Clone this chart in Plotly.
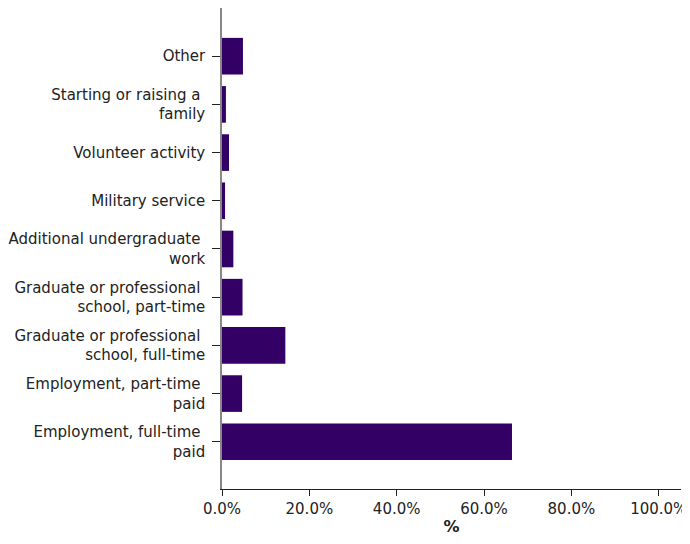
import plotly.graph_objects as go

categories = [
    "Employment, full-time <br>paid",
    "Employment, part-time <br>paid",
    "Graduate or professional <br>school, full-time",
    "Graduate or professional <br>school, part-time",
    "Additional undergraduate <br>work",
    "Military service",
    "Volunteer activity",
    "Starting or raising a <br>family",
    "Other",
]
values = [66.4, 4.6, 14.5, 4.7, 2.6, 0.7, 1.6, 0.9, 4.8]
x_ticks = [0, 20, 40, 60, 80, 100]
x_tick_labels = ["0.0%", "20.0%", "40.0%", "60.0%", "80.0%", "100.0%"]

fig = go.Figure(
    go.Bar(
        x=values,
        y=categories,
        orientation="h",
        marker=dict(color="#330066", line=dict(width=0)),
        hoverinfo="x+y",
    )
)

fig.update_layout(
    width=682,
    height=528,
    margin=dict(l=214, r=9, t=0, b=47),
    plot_bgcolor="white",
    paper_bgcolor="white",
    font=dict(family="DejaVu Sans, Verdana, sans-serif", size=15, color="#222222"),
    bargap=0.24,
    showlegend=False,
)

fig.update_xaxes(
    range=[0, 105.1],
    tickvals=x_ticks,
    ticktext=x_tick_labels,
    showgrid=False,
    zeroline=False,
    showline=True,
    linecolor="#222222",
    linewidth=1,
    ticks="outside",
    ticklen=6,
    tickcolor="#222222",
    tickfont=dict(size=15),
    ticklabeloverflow="allow",
    title=dict(text="<b>%</b>", font=dict(size=16), standoff=10),
    automargin=False,
)

fig.update_yaxes(
    categoryorder="array",
    categoryarray=categories,
    range=[-0.98, 9.0],
    showgrid=False,
    zeroline=False,
    showline=True,
    linecolor="#888888",
    linewidth=1.5,
    ticks="outside",
    ticklen=8,
    tickcolor="#222222",
    ticklabelstandoff=4,
    tickfont=dict(size=15),
    automargin=False,
)

fig.write_html("out.html")
